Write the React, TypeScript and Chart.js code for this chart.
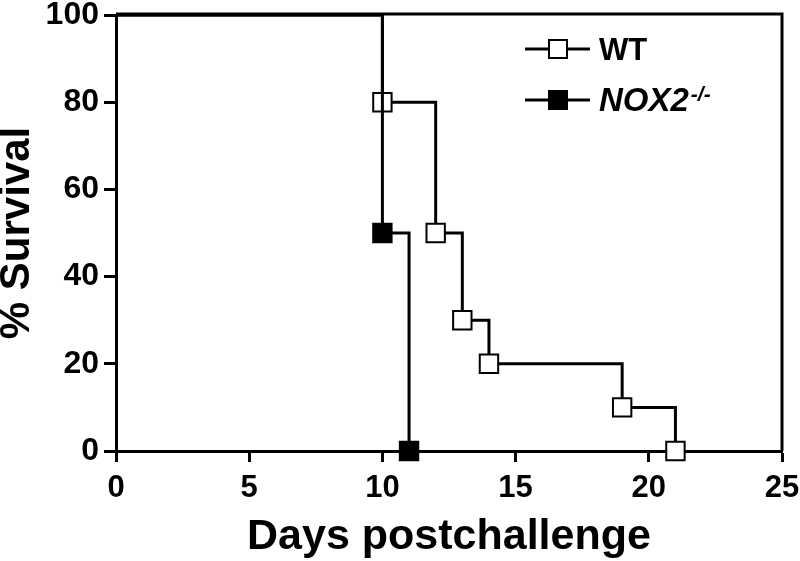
import React, { useEffect, useRef } from 'react';
import { Chart, registerables } from 'chart.js';

Chart.register(...registerables);

// ---- data ----
const wtDays = [0, 10, 12, 13, 14, 19, 21];
const wtSurvival = [100, 80, 50, 30, 20, 10, 0];
const noxDays = [0, 10, 11];
const noxSurvival = [100, 50, 0];
const xTickValues = [0, 5, 10, 15, 20, 25];
const yTickValues = [0, 20, 40, 60, 80, 100];
const seriesNames = ['WT', 'NOX2'];
const noxSuperscript = '-/-';
const xTitle = 'Days postchallenge';
const yTitle = '% Survival';

const FONT = '"Liberation Sans", Arial, Helvetica, sans-serif';

const framePlugin = {
  id: 'frame',
  afterDatasetsDraw(chart: any) {
    const { ctx, chartArea } = chart;
    ctx.save();
    ctx.strokeStyle = '#000';
    ctx.lineWidth = 3;
    ctx.beginPath();
    ctx.moveTo(chartArea.left, chartArea.top - 1);
    ctx.lineTo(chartArea.right, chartArea.top - 1);
    ctx.lineTo(chartArea.right, chartArea.bottom);
    ctx.stroke();
    ctx.restore();
  },
};

const legendPlugin = {
  id: 'customLegend',
  afterDraw(chart: any) {
    const { ctx } = chart;
    const rows = [
      { y: 49, fill: '#fff', label: seriesNames[0], italic: false, sup: '', size: 31 },
      { y: 100, fill: '#000', label: seriesNames[1], italic: true, sup: noxSuperscript, size: 33 },
    ];
    ctx.save();
    rows.forEach((r) => {
      ctx.strokeStyle = '#000';
      ctx.lineWidth = 3;
      ctx.beginPath();
      ctx.moveTo(525, r.y);
      ctx.lineTo(590, r.y);
      ctx.stroke();
      ctx.fillStyle = r.fill;
      ctx.lineWidth = 2;
      ctx.beginPath();
      ctx.rect(558 - 9, r.y - 9, 18, 18);
      ctx.fill();
      ctx.stroke();
      ctx.fillStyle = '#000';
      ctx.textBaseline = 'alphabetic';
      ctx.textAlign = 'left';
      ctx.font = `${r.italic ? 'italic ' : ''}bold ${r.size}px ${FONT}`;
      ctx.fillText(r.label, 599, r.y + 11);
      if (r.sup) {
        const w = ctx.measureText(r.label).width;
        ctx.font = `italic bold 21px ${FONT}`;
        ctx.fillText(r.sup, 599 + w + 2, r.y + 1);
      }
    });
    ctx.restore();
  },
};

export default function App() {
  const ref = useRef<HTMLCanvasElement | null>(null);

  useEffect(() => {
    if (!ref.current) return;
    const pointRadius = (c: any) => (c.dataIndex === 0 ? 0 : 13);
    const chart = new Chart(ref.current, {
      type: 'line',
      data: {
        datasets: [
          {
            label: seriesNames[1],
            data: noxDays.map((d, i) => ({ x: d, y: noxSurvival[i] })),
            stepped: 'before',
            borderColor: '#000',
            borderWidth: 3,
            pointStyle: 'rect',
            pointRadius,
            pointHoverRadius: pointRadius,
            pointBackgroundColor: '#000',
            pointBorderColor: '#000',
            pointBorderWidth: 2,
            fill: false,
            clip: false as any,
          },
          {
            label: seriesNames[0],
            data: wtDays.map((d, i) => ({ x: d, y: wtSurvival[i] })),
            stepped: 'before',
            borderColor: '#000',
            borderWidth: 3,
            pointStyle: 'rect',
            pointRadius,
            pointHoverRadius: pointRadius,
            pointBackgroundColor: '#fff',
            pointBorderColor: '#000',
            pointBorderWidth: 2,
            fill: false,
            clip: false as any,
          },
        ],
      },
      options: {
        animation: false,
        responsive: true,
        maintainAspectRatio: false,
        layout: { padding: { top: 12, right: 18, left: 0, bottom: 0 } },
        plugins: { legend: { display: false }, tooltip: { enabled: false } },
        events: [],
        scales: {
          x: {
            type: 'linear',
            min: 0,
            max: 25,
            afterBuildTicks: (s: any) => {
              s.ticks = xTickValues.map((v) => ({ value: v }));
            },
            afterFit: (s: any) => {
              s.height = 110;
              s.paddingLeft = 0;
              s.paddingRight = 0;
            },
            grid: {
              drawOnChartArea: false,
              drawTicks: true,
              tickLength: 11,
              tickWidth: 3,
              tickColor: '#000',
            },
            border: { display: true, width: 3, color: '#000' },
            ticks: {
              color: '#000',
              padding: 11,
              maxRotation: 0,
              font: { family: FONT, size: 31, weight: 'bold', lineHeight: 1 },
            },
            title: {
              display: true,
              text: xTitle,
              color: '#000',
              padding: { top: 0, bottom: 0 },
              font: { family: FONT, size: 43, weight: 'bold', lineHeight: 1.1 },
            },
          },
          y: {
            type: 'linear',
            min: 0,
            max: 100,
            afterBuildTicks: (s: any) => {
              s.ticks = yTickValues.map((v) => ({ value: v }));
            },
            afterFit: (s: any) => {
              s.width = 116;
              s.paddingTop = 0;
              s.paddingBottom = 0;
            },
            grid: {
              drawOnChartArea: false,
              drawTicks: true,
              tickLength: 12,
              tickWidth: 3,
              tickColor: '#000',
            },
            border: { display: true, width: 3, color: '#000' },
            ticks: {
              color: '#000',
              padding: 5,
              font: { family: FONT, size: 32, weight: 'bold', lineHeight: 1 },
            },
            title: {
              display: true,
              text: yTitle,
              color: '#000',
              padding: { top: 0, bottom: 0 },
              font: { family: FONT, size: 42, weight: 'bold', lineHeight: 0.85 },
            },
          },
        },
      },
      plugins: [framePlugin, legendPlugin],
    } as any);
    return () => chart.destroy();
  }, []);

  return (
    <div style={{ position: 'absolute', left: 0, top: 0, width: 800, height: 561, background: '#fff' }}>
      <canvas ref={ref} />
    </div>
  );
}
